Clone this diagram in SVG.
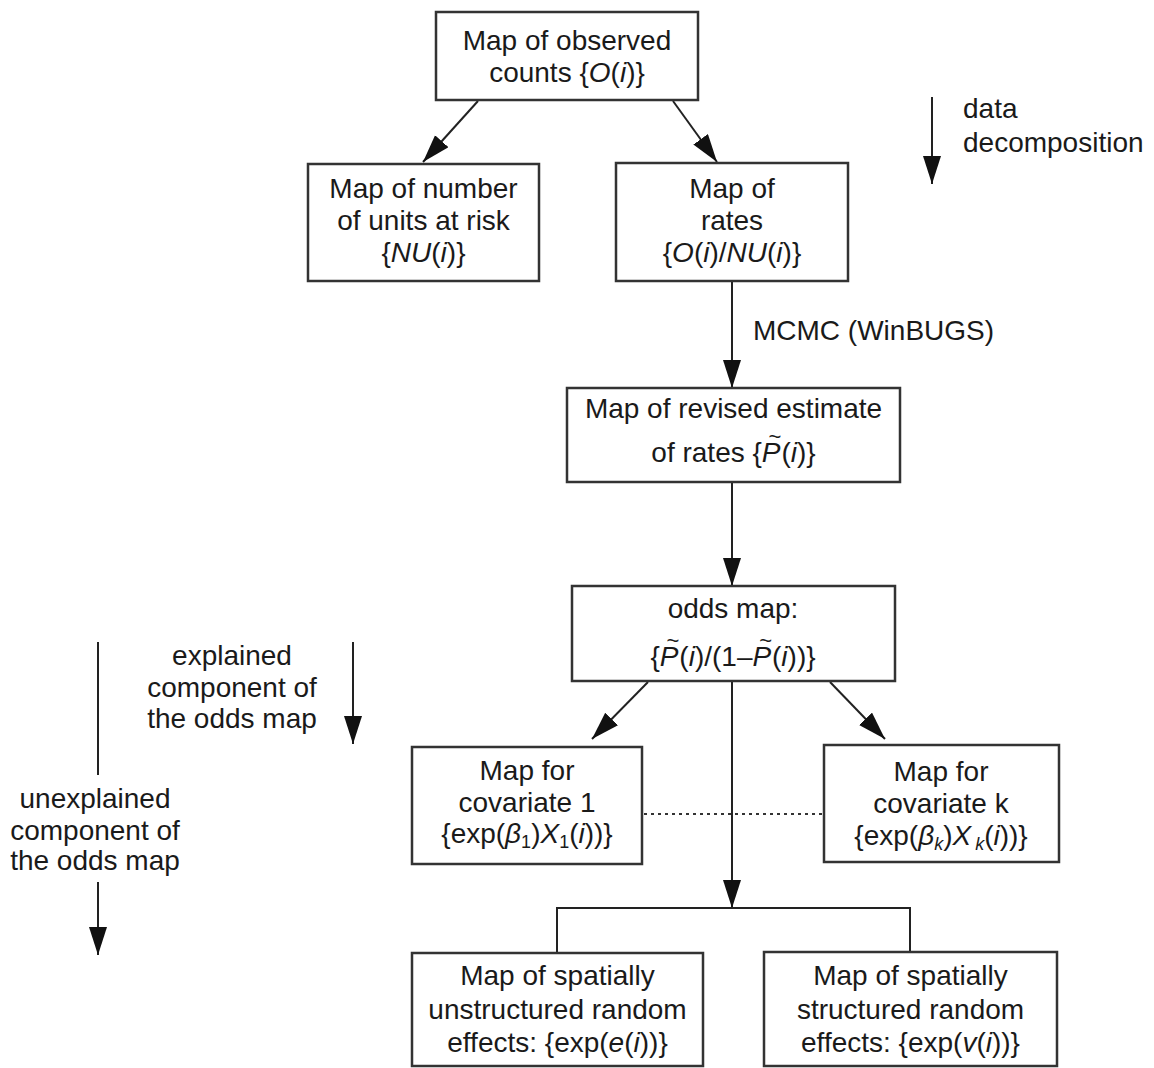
<svg xmlns="http://www.w3.org/2000/svg" width="1154" height="1068" viewBox="0 0 1154 1068">
  <defs>
    <marker id="arrow" markerUnits="userSpaceOnUse" markerWidth="30" markerHeight="20" refX="28" refY="9" orient="auto">
      <path d="M0,0 L28,9 L0,18 z" fill="#111"/>
    </marker>
    <style>
      text { font-family: "Liberation Sans", Arial, sans-serif; font-size: 28px; fill: #1a1a1a; }
      .c { text-anchor: middle; }
      .it { font-style: italic; }
      .sub { font-size: 18px; }
      .tl { font-size: 22px; }
      .box { fill: #fff; stroke: #333; stroke-width: 2.5; }
      .ln { fill: none; stroke: #222; stroke-width: 2; }
      .dot { fill: none; stroke: #333; stroke-width: 2; stroke-dasharray: 3 4; }
    </style>
  </defs>
  <rect width="1154" height="1068" fill="#fff"/>

  <!-- connectors -->
  <g id="connectors">
    <line class="ln" x1="478" y1="101" x2="423" y2="162" marker-end="url(#arrow)"/>
    <line class="ln" x1="673" y1="101" x2="717" y2="162" marker-end="url(#arrow)"/>
    <line class="ln" x1="732" y1="282" x2="732" y2="388" marker-end="url(#arrow)"/>
    <line class="ln" x1="732" y1="483" x2="732" y2="586" marker-end="url(#arrow)"/>
    <line class="ln" x1="648" y1="682" x2="592" y2="739" marker-end="url(#arrow)"/>
    <line class="ln" x1="830" y1="682" x2="885" y2="739" marker-end="url(#arrow)"/>
    <line class="ln" x1="732" y1="682" x2="732" y2="908" marker-end="url(#arrow)"/>
    <path class="ln" d="M557,953 V908 H910 V952"/>
    <line class="dot" x1="644" y1="814" x2="823" y2="814"/>
    <!-- side direction arrows -->
    <line class="ln" x1="932" y1="97" x2="932" y2="184" marker-end="url(#arrow)"/>
    <line class="ln" x1="353" y1="642" x2="353" y2="744" marker-end="url(#arrow)"/>
    <line class="ln" x1="98" y1="642" x2="98" y2="775"/>
    <line class="ln" x1="98" y1="882" x2="98" y2="955" marker-end="url(#arrow)"/>
  </g>

  <!-- side labels -->
  <g id="label-decomposition">
    <text x="963" y="118">data</text>
    <text x="963" y="152">decomposition</text>
  </g>
  <g id="label-mcmc">
    <text x="753" y="340">MCMC (WinBUGS)</text>
  </g>
  <g id="label-explained">
    <text class="c" x="232" y="665">explained</text>
    <text class="c" x="232" y="697">component of</text>
    <text class="c" x="232" y="728">the odds map</text>
  </g>
  <g id="label-unexplained">
    <text class="c" x="95" y="808">unexplained</text>
    <text class="c" x="95" y="840">component of</text>
    <text class="c" x="95" y="870">the odds map</text>
  </g>

  <!-- nodes -->
  <g id="node-counts">
    <rect class="box" x="436" y="12" width="262" height="88"/>
    <text class="c" x="567" y="50">Map of observed</text>
    <text class="c" x="567" y="82">counts {<tspan class="it">O</tspan>(<tspan class="it">i</tspan>)}</text>
  </g>

  <g id="node-units">
    <rect class="box" x="308" y="164" width="231" height="117"/>
    <text class="c" x="423.5" y="198">Map of number</text>
    <text class="c" x="423.5" y="230">of units at risk</text>
    <text class="c" x="423.5" y="262">{<tspan class="it">NU</tspan>(<tspan class="it">i</tspan>)}</text>
  </g>

  <g id="node-rates">
    <rect class="box" x="616" y="163" width="232" height="118"/>
    <text class="c" x="732" y="198">Map of</text>
    <text class="c" x="732" y="230">rates</text>
    <text class="c" x="732" y="262">{<tspan class="it">O</tspan>(<tspan class="it">i</tspan>)/<tspan class="it">NU</tspan>(<tspan class="it">i</tspan>)}</text>
  </g>

  <g id="node-revised">
    <rect class="box" x="567" y="388" width="333" height="94"/>
    <text class="c" x="733.5" y="418">Map of revised estimate</text>
    <text class="c" x="733.5" y="462">of rates {<tspan class="it">P</tspan><tspan class="tl" dx="-12" dy="-18">~</tspan><tspan dy="18">(</tspan><tspan class="it">i</tspan>)}</text>
  </g>

  <g id="node-odds">
    <rect class="box" x="572" y="586" width="323" height="95"/>
    <text class="c" x="733" y="618">odds map:</text>
    <text class="c" x="733" y="666">{<tspan class="it">P</tspan><tspan class="tl" dx="-12" dy="-18">~</tspan><tspan dy="18">(</tspan><tspan class="it">i</tspan>)/(1–<tspan class="it">P</tspan><tspan class="tl" dx="-12" dy="-18">~</tspan><tspan dy="18">(</tspan><tspan class="it">i</tspan>))}</text>
  </g>

  <g id="node-covariate-1">
    <rect class="box" x="412" y="747" width="230" height="117"/>
    <text class="c" x="527" y="780">Map for</text>
    <text class="c" x="527" y="812">covariate 1</text>
    <text class="c" x="527" y="843">{exp(<tspan class="it">β</tspan><tspan class="sub" dy="5">1</tspan><tspan dy="-5">)</tspan><tspan class="it">X</tspan><tspan class="sub" dy="5">1</tspan><tspan dy="-5">(</tspan><tspan class="it">i</tspan>))}</text>
  </g>

  <g id="node-covariate-k">
    <rect class="box" x="824" y="745" width="235" height="117"/>
    <text class="c" x="941" y="781">Map for</text>
    <text class="c" x="941" y="813">covariate k</text>
    <text class="c" x="941" y="845">{exp(<tspan class="it">β</tspan><tspan class="sub it" dy="5">k</tspan><tspan dy="-5">)</tspan><tspan class="it">X</tspan><tspan class="sub it" dx="4" dy="5">k</tspan><tspan dy="-5">(</tspan><tspan class="it">i</tspan>))}</text>
  </g>

  <g id="node-unstructured">
    <rect class="box" x="412" y="953" width="291" height="113"/>
    <text class="c" x="557.5" y="985">Map of spatially</text>
    <text class="c" x="557.5" y="1019">unstructured random</text>
    <text class="c" x="557.5" y="1052">effects: {exp(<tspan class="it">e</tspan>(<tspan class="it">i</tspan>))}</text>
  </g>

  <g id="node-structured">
    <rect class="box" x="764" y="952" width="293" height="114"/>
    <text class="c" x="910.5" y="985">Map of spatially</text>
    <text class="c" x="910.5" y="1019">structured random</text>
    <text class="c" x="910.5" y="1052">effects: {exp(<tspan class="it">v</tspan>(<tspan class="it">i</tspan>))}</text>
  </g>
</svg>
